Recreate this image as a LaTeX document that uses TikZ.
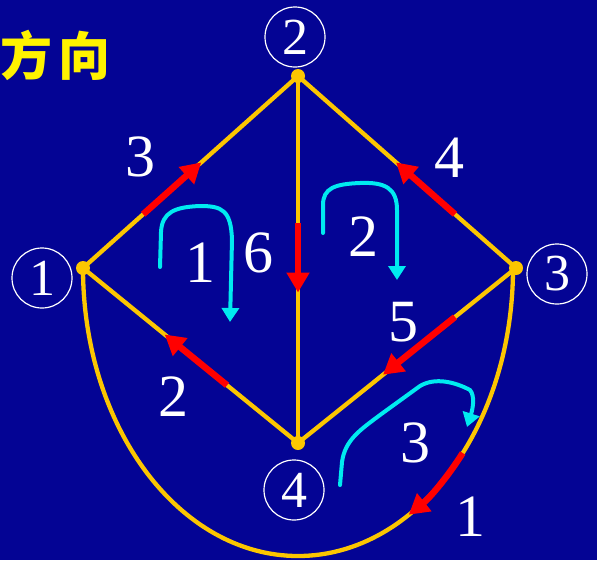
\documentclass[tikz,border=0pt]{standalone}
\usepackage{fontspec}
\setmainfont{Liberation Serif}
\newfontfamily\cjkfont{Noto Sans CJK SC}
\usetikzlibrary{arrows.meta, calc}
\definecolor{bgblue}{RGB}{4,4,148}
\definecolor{edgeyellow}{RGB}{252,198,0}
\definecolor{meshcyan}{RGB}{0,235,240}
\tikzset{
  edge/.style={edgeyellow, line width=4.3pt},
  flow/.style={red, line width=6.5pt, -{Triangle[length=20pt,width=22pt]}},
  mesh/.style={meshcyan, line width=4pt, line cap=round, -{Triangle[length=14pt,width=17pt]}},
  vertex/.style={circle, fill=edgeyellow, inner sep=0pt, minimum size=14pt},
  vlabel/.style={circle, draw=white, line width=1.2pt, text=white, minimum size=60pt, inner sep=0pt, font=\fontsize{52}{52}\selectfont},
  num/.style={text=white, inner sep=0pt, font=\fontsize{60}{60}\selectfont},
}
\begin{document}
\begin{tikzpicture}[x=1pt,y=-1pt]
    % Background
    \fill[bgblue] (0,0) rectangle (597,560);
    \useasboundingbox (0,0) rectangle (597,560);

    % Title
    \node[text=yellow, anchor=west, inner sep=0pt, font=\cjkfont\bfseries\fontsize{52}{52}\selectfont] (title) at (0,55) {方\hspace{6pt}向};

    % Vertices
    \node[vertex] (v1) at (83,268) {};
    \node[vertex] (v2) at (298,76) {};
    \node[vertex] (v3) at (516,268) {};
    \node[vertex] (v4) at (298,443) {};

    % Vertex labels
    \node[vlabel] (l1) at (42,278) {1};
    \node[vlabel] (l2) at (295,37) {2};
    \node[vlabel] (l3) at (557,274) {3};
    \node[vlabel] (l4) at (294,490) {4};

    % Edges
    \draw[edge] (v1.center) -- (v2.center);
    \draw[edge] (v2.center) -- (v3.center);
    \draw[edge] (v2.center) -- (v4.center);
    \draw[edge] (v1.center) -- (v4.center);
    \draw[edge] (v3.center) -- (v4.center);
    \draw[edge] (v1.center) arc[start angle=180, end angle=0, x radius=215, y radius=288];

    % Edge directions
    \draw[flow] ($(v1)!0.28!(v2)$) -- ($(v1)!0.55!(v2)$);
    \draw[flow] ($(v3)!0.28!(v2)$) -- ($(v3)!0.55!(v2)$);
    \draw[flow] ($(v2)!0.40!(v4)$) -- ($(v2)!0.59!(v4)$);
    \draw[flow] ($(v4)!0.33!(v1)$) -- ($(v4)!0.62!(v1)$);
    \draw[flow] ($(v3)!0.28!(v4)$) -- ($(v3)!0.61!(v4)$);
    \draw[flow] (462.7,453) arc[start angle=40, end angle=59, x radius=215, y radius=288];

    % Edge numbers
    \node[num] (e1) at (470,517) {1};
    \node[num] (e2) at (173,397) {2};
    \node[num] (e3) at (140,157) {3};
    \node[num] (e4) at (449,158) {4};
    \node[num] (e5) at (403,322) {5};
    \node[num] (e6) at (258,253) {6};

    % Meshes
    \draw[mesh] (160,267) -- (161,232) .. controls (162,212) and (175,207) .. (200,206)
        .. controls (222,206) and (231,210) .. (232,240) -- (230,322);
    \draw[mesh] (323,233) -- (323,205) .. controls (323,188) and (335,184) .. (360,183)
        .. controls (385,182) and (397,188) .. (397,210) -- (397,280);
    \draw[mesh] (340,485) -- (342,462) .. controls (345,440) and (360,430) .. (380,415)
        -- (420,386) .. controls (435,377) and (455,382) .. (470,390)
        .. controls (475,396) and (473,408) .. (467,427);
    \node[num] (m1) at (200,263) {1};
    \node[num] (m2) at (363,237) {2};
    \node[num] (m3) at (415,443) {3};
\end{tikzpicture}
\end{document}
